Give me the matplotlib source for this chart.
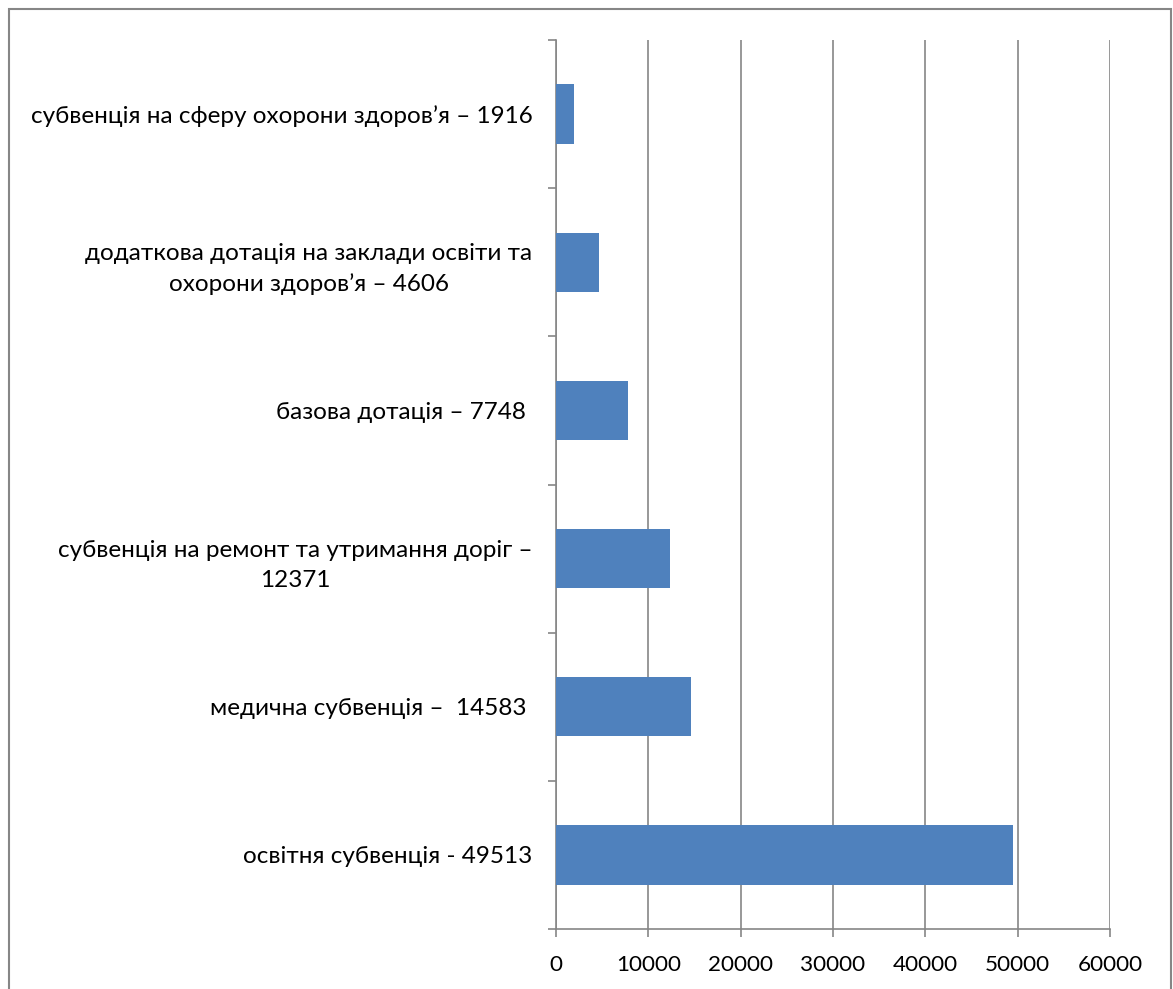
import matplotlib.pyplot as plt
from matplotlib.patches import Rectangle

plt.rcParams['font.family'] = ['Lato', 'Open Sans', 'DejaVu Sans']

# data, bottom to top
labels = [
    'освітня субвенція - 49513',
    'медична субвенція –  14583 ',
    'субвенція на ремонт та утримання доріг –\n12371',
    'базова дотація – 7748 ',
    'додаткова дотація на заклади освіти та\nохорони здоров’я – 4606',
    'субвенція на сферу охорони здоров’я – 1916',
]
values = [49513, 14583, 12371, 7748, 4606, 1916]
xticks = [0, 10000, 20000, 30000, 40000, 50000, 60000]

grey = '#868686'
bar_color = '#4F81BD'

fig = plt.figure(figsize=(11.73, 9.89), dpi=100)
ax = fig.add_axes([556 / 1173, 1 - 929 / 989, (1110 - 556) / 1173, (929 - 40) / 989])

pos = list(range(len(values)))
ax.barh(pos, values, height=0.4, color=bar_color, zorder=3)

ax.set_xlim(0, 60000)
ax.set_ylim(-0.5, len(values) - 0.5)
ax.set_xticks(xticks)
ax.set_xticklabels([str(v) for v in xticks])
ax.set_yticks(pos)
ax.set_yticklabels(labels, ha='right', multialignment='center', linespacing=1.55)
ax.set_yticks([p - 0.5 for p in pos] + [len(values) - 0.5], minor=True)

ax.grid(axis='x', color=grey, linewidth=1.2, zorder=0)
for s in ['top', 'right']:
    ax.spines[s].set_visible(False)
for s in ['left', 'bottom']:
    ax.spines[s].set_color(grey)
    ax.spines[s].set_linewidth(1.2)

ax.tick_params(axis='y', which='major', length=0, pad=17, labelsize=17.5)
ax.tick_params(axis='y', which='minor', length=6, color=grey, width=1.2)
ax.tick_params(axis='x', length=6, color=grey, width=1.2, pad=13, labelsize=16.2)

# outer chart border
fig.patches.append(Rectangle((9 / 1173, -0.05), (1171 - 9) / 1173, 1 - 9 / 989 + 0.05,
                             transform=fig.transFigure, fill=False,
                             edgecolor=grey, linewidth=1.5))

fig.savefig('out.png', dpi=100)
